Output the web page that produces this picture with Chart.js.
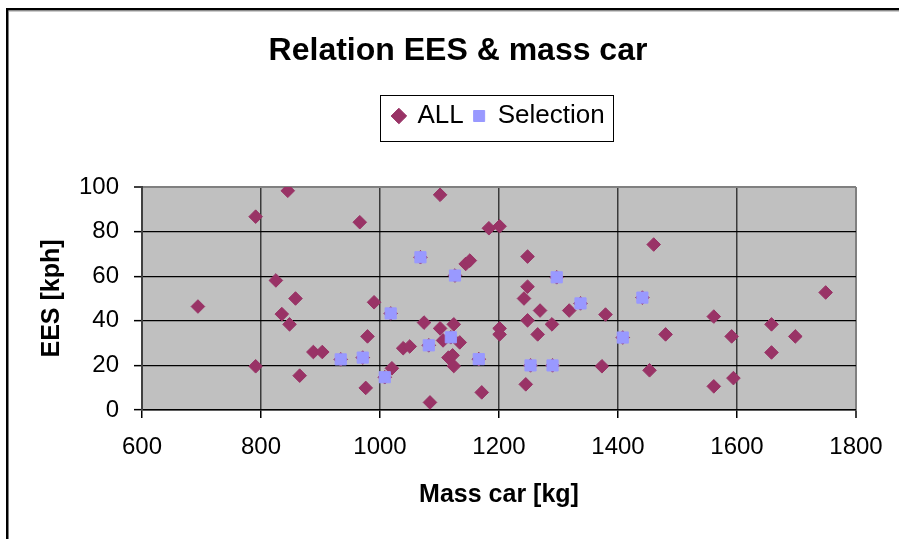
<!DOCTYPE html>
<html>
<head>
<meta charset="utf-8">
<script src="https://cdn.jsdelivr.net/npm/chart.js@4/dist/chart.umd.min.js"></script>
<style>
  html, body { margin: 0; padding: 0; background: #fff; }
  #wrap { width: 899px; height: 539px; position: relative; }
</style>
</head>
<body>
<div id="wrap"><canvas id="c" width="899" height="539"></canvas></div>
<script>
// ---- Data ----
const chartTitle = "Relation EES & mass car";
const xTitle = "Mass car [kg]";
const yTitle = "EES [kph]";
const seriesNames = ["ALL", "Selection"];

const massAll = [694, 791, 791, 825, 835, 845, 848, 858, 865, 888, 903, 934, 966, 971, 976, 979, 990,
  1008, 1018, 1020, 1039, 1050, 1068, 1074, 1082, 1084, 1101, 1101, 1106, 1115, 1119, 1122, 1124, 1124,
  1126, 1134, 1144, 1151, 1166, 1171, 1183, 1201, 1201, 1201, 1242, 1245, 1248, 1248, 1248, 1253, 1265,
  1269, 1289, 1290, 1297, 1318, 1337, 1373, 1379, 1408, 1441, 1453, 1460, 1480, 1561, 1561, 1591, 1594,
  1658, 1658, 1698, 1749];
const eesAll = [46.4, 86.7, 19.6, 58.1, 43.0, 98.3, 38.4, 50.0, 15.4, 26.0, 26.0, 22.7, 84.2, 23.5, 9.9, 33.0, 48.3,
  14.7, 43.3, 18.7, 27.7, 28.5, 68.5, 39.2, 29.0, 3.4, 96.5, 36.6, 31.2, 23.5, 32.6, 24.5, 38.4, 19.7,
  60.3, 30.3, 65.5, 67.0, 22.8, 7.9, 81.5, 82.4, 36.6, 33.9, 50.0, 11.5, 68.8, 55.3, 40.2, 20.0, 33.9,
  44.6, 38.4, 20.0, 59.5, 44.6, 47.8, 19.6, 42.8, 32.5, 50.4, 17.8, 74.2, 33.9, 41.9, 10.6, 33.0, 14.3,
  38.4, 25.8, 33.0, 52.7];

const massSel = [934, 971, 1008, 1018, 1068, 1082, 1119, 1126, 1166, 1253, 1290, 1297, 1337, 1408, 1441];
const eesSel  = [22.7, 23.5, 14.7, 43.3, 68.5, 29.0, 32.6, 60.3, 22.8, 20.0, 20.0, 59.5, 47.8, 32.5, 50.4];

const xTicks = [600, 800, 1000, 1200, 1400, 1600, 1800];
const yTicks = [0, 20, 40, 60, 80, 100];

// ---- Build ----
const FONT = "'Liberation Sans', Arial, sans-serif";
const toPts = (xs, ys) => xs.map((x, i) => ({ x: x, y: ys[i] }));

const decorPlugin = {
  id: 'decor',
  beforeDraw(chart) {
    const ctx = chart.ctx, a = chart.chartArea;
    ctx.save();
    ctx.fillStyle = '#ffffff';
    ctx.fillRect(0, 0, chart.width, chart.height);
    // outer frame
    ctx.fillStyle = '#000';
    ctx.fillRect(6, 8, chart.width - 6, 2.5);
    ctx.fillRect(6, 8, 2.5, chart.height - 8);
    ctx.fillStyle = '#9a9a9a';
    ctx.fillRect(8.5, 10.5, chart.width - 8.5, 1);
    // plot background
    ctx.fillStyle = '#C0C0C0';
    ctx.fillRect(a.left, a.top, a.right - a.left, a.bottom - a.top);
    // title
    ctx.fillStyle = '#000';
    ctx.font = "bold 32px " + FONT;
    ctx.textAlign = 'center';
    ctx.textBaseline = 'middle';
    ctx.fillText(chartTitle, 458, 51);
    ctx.restore();
  },
  afterDraw(chart) {
    const lg = chart.legend;
    if (!lg || !lg.legendHitBoxes || !lg.legendHitBoxes.length) return;
    const hb = lg.legendHitBoxes;
    const first = hb[0], last = hb[hb.length - 1];
    const x0 = first.left - 13, x1 = last.left + last.width + 9;
    const y0 = first.top - 8, y1 = first.top + first.height + 12;
    const ctx = chart.ctx;
    ctx.save();
    ctx.strokeStyle = '#000';
    ctx.lineWidth = 1;
    ctx.strokeRect(Math.round(x0) + 0.5, Math.round(y0) + 0.5, Math.round(x1 - x0), Math.round(y1 - y0));
    ctx.restore();
  }
};

new Chart(document.getElementById('c'), {
  type: 'scatter',
  data: {
    datasets: [
      {
        label: seriesNames[0],
        data: toPts(massAll, eesAll),
        pointStyle: 'rectRot',
        pointRadius: 6.8,
        borderWidth: 1,
        backgroundColor: '#993366',
        borderColor: '#993366',
        order: 2
      },
      {
        label: seriesNames[1],
        data: toPts(massSel, eesSel),
        pointStyle: 'rect',
        pointRadius: 7.9,
        borderWidth: 1,
        backgroundColor: '#9999FF',
        borderColor: '#9999FF',
        order: 1
      }
    ]
  },
  options: {
    responsive: false,
    animation: false,
    events: [],
    layout: { padding: { top: 93, left: 10, right: 43, bottom: 28 } },
    plugins: {
      title: { display: false },
      tooltip: { enabled: false },
      subtitle: {
        display: true, text: '', position: 'top', weight: 500,
        font: { size: 1 }, padding: { top: 0, bottom: 46.8 }
      },
      legend: {
        display: true,
        position: 'top',
        fullSize: false,
        labels: {
          usePointStyle: true,
          boxWidth: 11,
          boxHeight: 11,
          padding: 10,
          color: '#000',
          font: { family: FONT, size: 26 },
          sort: (a, b) => a.datasetIndex - b.datasetIndex
        }
      }
    },
    scales: {
      x: {
        type: 'linear',
        min: 600, max: 1800,
        afterBuildTicks: (s) => { s.ticks = xTicks.map(v => ({ value: v })); },
        afterFit: (s) => { s.height = 101; },
        ticks: {
          color: '#000', font: { family: FONT, size: 24 }, padding: 15, maxRotation: 0,
          callback: (v) => String(v)
        },
        grid: {
          color: (c) => (c.tick && c.tick.value === 1800) ? '#808080' : '#3a3a3a',
          lineWidth: (c) => (c.tick && c.tick.value === 1800) ? 2 : 1.5,
          tickColor: '#000', tickWidth: 1.5, tickLength: 8, drawTicks: true
        },
        border: { display: true, color: '#000', width: 1.5 },
        title: {
          display: true, text: xTitle, color: '#000',
          font: { family: FONT, size: 25, weight: 'bold' },
          padding: { top: 0, bottom: 1 }
        }
      },
      y: {
        type: 'linear',
        min: 0, max: 100,
        afterBuildTicks: (s) => { s.ticks = yTicks.map(v => ({ value: v })); },
        afterFit: (s) => { s.width = 132; },
        ticks: {
          color: '#000', font: { family: FONT, size: 24 }, padding: 15,
          callback: (v) => String(v)
        },
        grid: {
          color: (c) => (c.tick && c.tick.value === 100) ? '#808080' : '#000',
          lineWidth: (c) => (c.tick && c.tick.value === 100) ? 2 : 1.3,
          tickColor: '#000', tickWidth: 1.5, tickLength: 8, drawTicks: true
        },
        border: { display: true, color: '#404040', width: 2 },
        title: {
          display: true, text: yTitle, color: '#000',
          font: { family: FONT, size: 25, weight: 'bold' },
          padding: { top: 27, bottom: 0 }
        }
      }
    }
  },
  plugins: [decorPlugin]
});
</script>
</body>
</html>
